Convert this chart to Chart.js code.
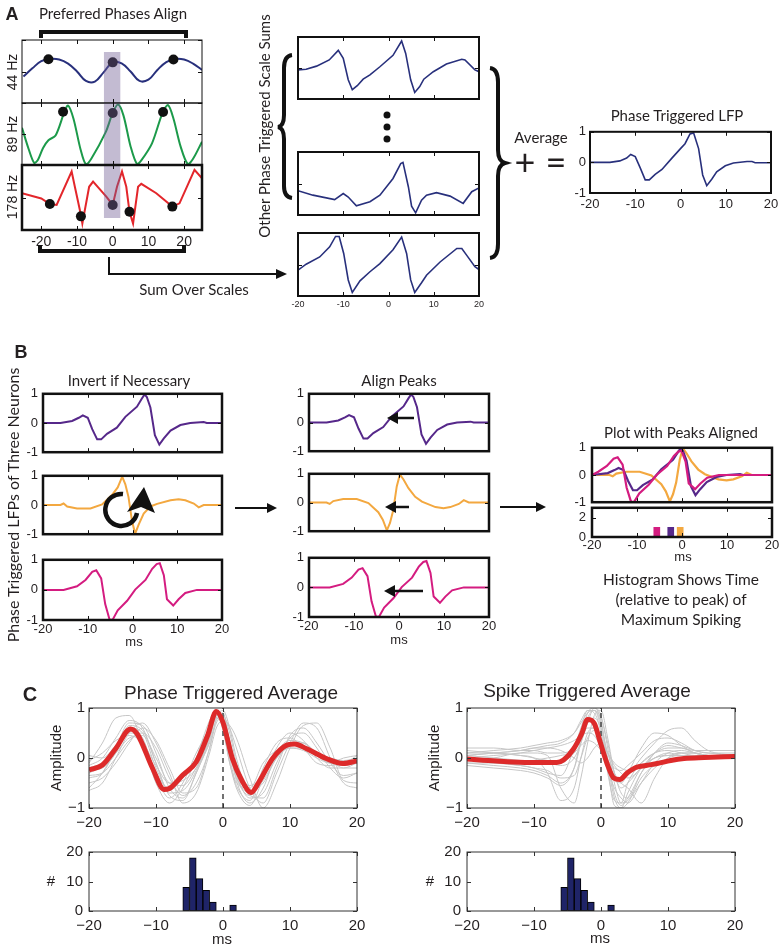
<!DOCTYPE html>
<html><head><meta charset="utf-8">
<script src="https://cdn.jsdelivr.net/npm/chart.js@4.4.1/dist/chart.umd.min.js"></script>
<style>
body{margin:0;background:#fff;}
#fig{position:relative;width:784px;height:949px;overflow:hidden;background:#fff;color:#231f20;}
#fig canvas{position:absolute;z-index:1;}
.t{position:absolute;white-space:nowrap;transform:translate(-50%,-50%);line-height:1;z-index:3;}
.v{position:absolute;white-space:nowrap;transform:translate(-50%,-50%) rotate(-90deg);line-height:1;z-index:3;}
#ov{position:absolute;left:0;top:0;z-index:2;}
</style></head><body>
<div id="fig">
<svg id="ov" width="784" height="949" viewBox="0 0 784 949">
 <g stroke="#111" fill="none">
  <path d="M41 38 V32 H186 V38" stroke-width="4"/>
  <path d="M40 245 V251 H184 V245" stroke-width="4"/>
  <path d="M109 257 V274 H278" stroke-width="2"/>
  <path d="M292 55 Q284 56 284 68 L284 115 Q284 126 278 127 Q284 128 284 139 L284 186 Q284 197 292 198" stroke-width="4"/>
  <path d="M490 68 Q498 69 498 82 L498 150 Q498 161 505 163 Q498 165 498 176 L498 244 Q498 257 490 258" stroke-width="4"/>
  <line x1="235" y1="508" x2="269" y2="508" stroke-width="2"/>
  <line x1="500" y1="507" x2="537" y2="507" stroke-width="2"/>
  <line x1="414" y1="418" x2="396" y2="418" stroke-width="2.5"/>
  <line x1="409" y1="507" x2="394" y2="507" stroke-width="2.5"/>
  <line x1="423" y1="591" x2="393" y2="591" stroke-width="2.5"/>
  <path d="M123 494 A16 16 0 1 0 137 513" stroke-width="4.5"/>
 </g>
 <g fill="#111">
  <polygon points="276,269 287,274 276,279"/>
  <polygon points="267,503 277,508 267,513"/>
  <polygon points="536,502 546,507 536,512"/>
  <polygon points="398,412 387,418 398,424"/>
  <polygon points="396,501 385,507 396,513"/>
  <polygon points="395,585 384,591 395,597"/>
  <polygon points="127,512 144,487 155,513 141,507"/>
  <circle cx="387" cy="115" r="3.5"/>
  <circle cx="387" cy="127" r="3.5"/>
  <circle cx="387" cy="139" r="3.5"/>
 </g>
</svg>
</div>
<script>
// ================= DATA =================
const msTicks = [-20, -10, 0, 10, 20];
const ampTicks = [-1, 0, 1];
const histTicks = [0, 10, 20];
const peakHistTicks = [0, 2];
const triggerTime = 0;

// Panel A - wavelet scale components
const a44x = [-25,-22.5,-20,-17.5,-15,-12.5,-10,-7.5,-5,-2.5,0,2.5,5,7.5,10,12.5,15,17.5,20,22.5,25];
const a44y = [-0.16,0.1,0.33,0.4,0.38,0.25,0.0,-0.3,-0.32,-0.02,0.29,0.26,0.0,-0.3,-0.26,0.05,0.3,0.4,0.38,0.25,0.05];
const a44dotX = [-18, 0, 17];
const a44dotY = [0.39, 0.29, 0.38];

const a89x = [-25.4,-23.5,-22,-21,-19.5,-18,-16,-13.5,-12.5,-11,-9,-7.5,-6,-2,0,1.5,3,5,6.8,8,11,14,15.5,17,19,21,22.5,25];
const a89y = [0.2,-0.5,-0.93,-0.85,-0.45,-0.2,-0.05,0.72,0.92,0.5,-0.5,-0.98,-0.8,0.05,0.68,0.95,0.6,-0.4,-0.97,-0.85,-0.3,0.7,0.93,0.5,-0.4,-0.97,-0.8,-0.25];
const a89dotX = [-13.9, 0, 14.1];
const a89dotY = [0.72, 0.68, 0.71];

const a178x = [-25.4,-20,-17.6,-15.7,-11.5,-10.6,-8.9,-8.5,-6.6,-5.5,-1.8,0,1.2,2.6,3.8,4.7,5.7,7.1,8.0,12.2,16.7,18.7,22.9,25];
const a178y = [0.13,-0.03,-0.2,-0.23,0.8,0.33,-0.54,-0.8,0.33,0.49,0.03,-0.23,0.33,0.8,0.33,-0.44,-0.8,0.33,0.42,0.13,-0.28,-0.18,0.85,0.59];
const a178dotX = [-17.6, -8.9, 0, 4.7, 16.7];
const a178dotY = [-0.2, -0.58, -0.23, -0.44, -0.28];

const shadeX = [-2.5, 2.2];
const shadeTop = 0.62;     // where the shaded band starts in the 44 Hz axes
const shadeBottom = -0.63; // where it ends in the 178 Hz axes

// Panel A - other phase triggered scale sums
const s1x = [-20,-18.2,-15.9,-13.1,-11.1,-10.0,-8.9,-8.0,-6.9,-5.6,-4.1,-1.9,1.0,2.9,3.8,4.9,5.8,6.9,7.8,9.9,12.8,16.2,16.9,19.1,20];
const s1y = [-0.06,-0.04,0.06,0.26,0.57,0.31,-0.38,-0.70,-0.57,-0.36,-0.22,0.04,0.41,0.87,0.47,-0.38,-0.79,-0.60,-0.36,-0.12,0.13,0.28,0.26,-0.06,-0.12];
const s2x = [-20,-16.7,-11.9,-10.0,-8.9,-7.1,-4.1,-1.9,1.0,2.7,3.2,4.4,5.1,6.0,7.3,8.4,10.6,13.6,16.5,18.4,20];
const s2y = [-0.23,-0.37,-0.51,-0.32,-0.43,-0.71,-0.58,-0.37,0.16,0.63,0.67,-0.11,-0.72,-0.93,-0.53,-0.37,-0.29,-0.40,-0.63,-0.26,-0.14];
const s3x = [-20,-18.2,-15.2,-13.0,-11.7,-10.9,-9.9,-8.9,-8.0,-6.3,-4.1,-1.9,1.0,2.9,4.0,4.9,5.8,7.3,8.4,11.4,15.1,16.2,17.3,19.1,20];
const s3y = [-0.18,0.01,0.24,0.56,0.89,0.89,0.35,-0.49,-0.89,-0.52,-0.23,0.03,0.47,0.87,0.35,-0.49,-0.89,-0.58,-0.34,0.08,0.51,0.51,0.29,-0.07,-0.16];

// Panel A - averaged phase triggered LFP
const lfpX = [-20,-15.6,-13.4,-11.9,-11.0,-10.0,-8.9,-7.8,-6.9,-5.6,-4.1,-1.9,0,1.0,2.1,2.9,4.0,4.9,5.8,6.9,8.0,9.9,11.7,14.7,15.8,16.5,20];
const lfpY = [0,0,0.05,0.14,0.26,0.19,-0.18,-0.57,-0.57,-0.39,-0.23,0.14,0.45,0.61,0.93,0.96,0.45,-0.41,-0.76,-0.55,-0.31,-0.11,-0.02,0.03,0.03,-0.01,-0.01];

// Panel B - three neurons
const purX = [-20,-16.1,-13.5,-12,-11.1,-10,-9,-7.9,-7,-5.7,-3.5,-1.6,1,2.1,2.7,3.2,4,5,6,7,8.5,10.7,12.9,15.9,16.6,20];
const purY = [0,0,0.07,0.18,0.26,0.18,-0.21,-0.56,-0.56,-0.37,-0.16,0.21,0.56,0.84,0.98,0.89,0.53,-0.42,-0.74,-0.53,-0.26,-0.07,0,0.03,0,0];
const oraX = [-20,-16.1,-15.4,-14.6,-12.4,-9.4,-6.8,-4.6,-3.3,-2.3,-1.6,-0.9,-0.1,0.6,1.4,2.5,4,5.5,8.5,10.3,11.8,13.7,14.8,15.9,20];
const oraY = [0,0,0.05,-0.05,-0.12,-0.12,0.02,0.34,0.6,0.97,0.71,0.28,-0.56,-0.98,-0.66,-0.29,-0.05,0.04,0.16,0.2,0.16,0.05,-0.08,0,0];
const oraInvX = [-20,-16.1,-15.4,-14.6,-12.4,-9.4,-6.8,-4.6,-3.6,-2.7,-2.0,-1.3,-0.5,0.2,1.0,2.1,3.6,5.1,8.1,9.9,11.4,13.3,14.4,15.5,20];
const oraInvY = [0,0,-0.05,0.05,0.12,0.12,-0.02,-0.34,-0.6,-0.97,-0.71,-0.28,0.56,0.98,0.8,0.5,0.2,0.03,-0.16,-0.2,-0.16,-0.05,0.08,0,0];
const magX = [-20,-15.4,-12.4,-10.5,-9,-8.1,-7,-6.1,-5.1,-4.4,-3.3,-1.2,0.6,2.9,4.4,5.4,6.1,7,7.7,9.1,10.3,11.8,14.4,20];
const magY = [0,0,0.12,0.33,0.6,0.65,0.38,-0.47,-1,-0.98,-0.68,-0.36,0.01,0.33,0.7,0.86,0.89,0.49,-0.31,-0.52,-0.31,-0.1,0,0];
// peaks aligned
const purAlX = [-20,-16.5,-15,-14.1,-13,-12,-10.9,-10,-8.7,-6.5,-4.6,-2,-0.9,-0.3,0.2,1,2,3,4,5.5,7.7,9.9,12.9,13.6,20];
const purAlY = [0,0.07,0.18,0.26,0.18,-0.21,-0.56,-0.56,-0.37,-0.16,0.21,0.56,0.84,0.98,0.89,0.53,-0.42,-0.74,-0.53,-0.26,-0.07,0,0.03,0,0];
const magAlX = [-20,-18.6,-16.7,-15.2,-14.3,-13.2,-12.3,-11.3,-10.6,-9.5,-7.4,-5.6,-3.3,-1.8,-0.8,-0.1,0.8,1.5,2.9,4.1,5.6,8.2,20];
const magAlY = [0,0.12,0.33,0.6,0.65,0.38,-0.47,-1,-0.98,-0.68,-0.36,0.01,0.33,0.7,0.86,0.89,0.49,-0.31,-0.52,-0.31,-0.1,0,0];
// time of maximum spiking for each neuron
const spikeTimeMag = [-5.6], spikeTimePur = [-2.5], spikeTimeOra = [-0.4];
const spikeCount = [1];

// Panel C - phase triggered average
const ptaX = [-20,-18,-16,-13.8,-12.8,-10.5,-8.8,-8.0,-6.0,-4.0,-2.3,-1.0,0,1.4,2.9,4.2,5.4,7.4,9.4,10.7,12.4,15.4,17.9,20];
const ptaY = [-0.24,-0.14,0.19,0.58,0.48,-0.21,-0.63,-0.61,-0.34,-0.08,0.45,0.93,0.71,-0.01,-0.47,-0.69,-0.47,-0.01,0.25,0.28,0.19,-0.01,-0.11,-0.06];
const ptaGridX = [-20,-18,-16,-14,-12,-10,-8,-6,-4,-2,-1,0,1,2,4,6,8,10,12,14,16,18,20];
const pta01 = [-0.3,-0.15,0.2,0.6,0.5,-0.2,-0.65,-0.4,-0.1,0.5,0.95,0.7,0.1,-0.4,-0.75,-0.3,0.1,0.3,0.25,0.05,-0.1,-0.15,-0.1];
const pta02 = [-0.1,0.3,0.8,0.85,0.3,-0.5,-0.9,-0.6,0.0,0.75,0.95,0.6,-0.1,-0.6,-0.95,-0.4,0.2,0.5,0.35,0.0,-0.2,-0.2,-0.1];
const pta03 = [-0.5,-0.4,-0.1,0.3,0.6,0.35,-0.2,-0.7,-0.6,0.2,0.7,0.8,0.6,0.2,-0.6,-0.9,-0.3,0.3,0.7,0.6,0.0,-0.5,-0.6];
const pta04 = [-0.6,-0.3,0.2,0.7,0.65,0.1,-0.6,-0.8,-0.3,0.4,0.85,0.8,0.3,-0.3,-0.8,-0.7,-0.1,0.4,0.5,0.2,-0.2,-0.4,-0.3];
const pta05 = [-0.2,-0.1,0.1,0.4,0.45,0.0,-0.5,-0.55,-0.2,0.3,0.75,0.85,0.5,-0.1,-0.65,-0.5,0.0,0.2,0.2,0.1,0.0,-0.05,0.0];
const pta06 = [-0.4,-0.3,0.15,0.55,0.4,-0.35,-0.8,-0.5,0.1,0.6,0.9,0.55,-0.1,-0.55,-0.85,-0.2,0.3,0.4,0.2,-0.1,-0.15,-0.1,-0.05];
const pta07 = [-0.05,0.1,0.35,0.45,0.3,-0.15,-0.5,-0.45,-0.2,0.4,0.8,0.75,0.35,-0.2,-0.55,-0.35,0.05,0.25,0.3,0.1,-0.05,-0.1,-0.1];
const pta08 = [-0.65,-0.5,0.0,0.5,0.7,0.3,-0.3,-0.9,-0.7,0.1,0.6,0.75,0.65,0.4,-0.4,-1.0,-0.5,0.2,0.65,0.7,0.2,-0.45,-0.5];
const pta09 = [-0.25,-0.2,0.1,0.65,0.55,-0.1,-0.7,-0.65,-0.25,0.45,0.85,0.9,0.3,-0.35,-0.7,-0.45,0.0,0.25,0.3,0.05,-0.1,-0.1,0.05];
const pta10 = [0.05,0.0,0.25,0.5,0.35,-0.3,-0.6,-0.4,0.0,0.55,0.9,0.6,0.0,-0.5,-0.6,-0.1,0.15,0.2,0.15,0.0,-0.1,0.0,0.05];
const pta11 = [-0.35,-0.3,0.0,0.35,0.5,0.2,-0.4,-0.75,-0.5,0.2,0.8,0.95,0.6,0.0,-0.75,-0.8,-0.2,0.45,0.6,0.3,-0.1,-0.35,-0.3];
const pta12 = [-0.15,0.0,0.4,0.75,0.6,-0.1,-0.75,-0.85,-0.3,0.35,0.85,0.8,0.2,-0.45,-0.9,-0.6,0.1,0.35,0.3,0.1,-0.05,-0.2,-0.2];

// Panel C - spike triggered average
const staX = [-20,-15.6,-10.6,-6.6,-5.6,-4.1,-2.9,-2.0,-1.0,-0.1,0.9,1.9,2.8,3.9,5.2,6.7,8.4,10.4,12.4,15.4,20];
const staY = [-0.02,-0.06,-0.09,-0.09,-0.04,0.18,0.48,0.77,0.69,0.31,-0.11,-0.40,-0.43,-0.30,-0.19,-0.15,-0.11,-0.05,-0.01,0.01,0.03];
const staGridX = [-20,-16,-12,-10,-8,-6,-4,-3,-2,-1,0,1,2,3,4,6,8,10,12,14,16,20];
const sta01 = [0.05,0.1,0.15,0.2,0.25,0.3,0.5,0.75,0.95,0.9,0.5,-0.3,-0.85,-0.9,-0.5,-0.1,0.1,0.15,0.1,0.05,0.05,0.05];
const sta02 = [-0.05,-0.1,-0.15,-0.2,-0.3,-0.35,0.2,0.6,0.95,0.95,0.6,-0.2,-0.95,-1.0,-0.7,-0.2,0.0,0.05,0.05,0.05,0.05,0.0];
const sta03 = [0.1,0.1,0.05,0.0,-0.3,-0.85,-0.6,0.0,0.5,0.6,0.3,-0.1,-0.4,-0.5,-0.3,0.2,0.5,0.45,0.25,0.1,0.05,0.05];
const sta04 = [-0.1,-0.15,-0.2,-0.25,-0.35,-0.5,-0.2,0.3,0.8,0.95,0.7,0.0,-0.7,-0.95,-0.8,-0.3,0.1,0.3,0.25,0.15,0.1,0.05];
const sta05 = [0.0,0.05,0.1,0.15,0.2,0.25,0.35,0.45,0.5,0.45,0.2,-0.1,-0.35,-0.45,-0.35,0.0,0.3,0.55,0.6,0.35,0.15,0.05];
const sta06 = [0.1,0.15,0.2,0.25,0.3,0.35,0.5,0.7,0.9,0.95,0.8,0.3,-0.3,-0.7,-0.8,-0.3,0.0,0.05,0.1,0.1,0.05,0.05];
const sta07 = [-0.1,-0.1,-0.15,-0.2,-0.25,-0.4,-0.35,0.0,0.4,0.55,0.35,-0.2,-0.6,-0.8,-0.9,-0.5,-0.1,0.1,0.15,0.1,0.05,0.0];
const sta08 = [0.05,0.0,-0.05,-0.1,-0.1,-0.15,0.0,0.3,0.7,1.0,0.85,0.2,-0.5,-0.9,-0.85,-0.5,-0.2,0.0,0.05,0.05,0.05,0.05];
const sta09 = [0.15,0.1,0.05,0.0,-0.05,-0.1,0.1,0.25,0.35,0.3,0.15,-0.05,-0.2,-0.25,-0.15,0.1,0.35,0.4,0.3,0.15,0.1,0.1];
const sta10 = [-0.05,0.0,0.1,0.1,0.05,-0.6,-0.9,-0.4,0.3,0.85,0.95,0.4,-0.3,-0.6,-0.5,-0.2,0.0,0.1,0.05,0.0,0.0,0.0];
const sta11 = [0.0,-0.05,-0.1,-0.05,0.0,0.05,0.15,0.4,0.7,0.8,0.6,0.1,-0.3,-0.5,-0.6,-0.9,-0.4,0.0,0.1,0.1,0.05,0.05];
const sta12 = [0.2,0.2,0.15,0.15,0.1,0.1,0.2,0.4,0.6,0.6,0.4,0.1,-0.15,-0.3,-0.4,-0.2,0.1,0.25,0.2,0.15,0.15,0.15];
const sta13 = [-0.15,-0.2,-0.25,-0.3,-0.4,-0.55,-0.2,0.4,0.9,1.0,0.75,-0.1,-0.8,-1.0,-0.9,-0.4,-0.15,-0.05,0.0,0.0,0.0,0.0];
const sta14 = [0.05,0.1,0.15,0.2,0.2,0.15,0.0,-0.1,0.0,0.2,0.3,0.1,-0.1,-0.2,-0.25,-0.1,0.1,0.2,0.2,0.1,0.05,0.05];

// Panel C - histogram of spike time relative to peak
const histBins = [-5.5, -4.5, -3.5, -2.5, -1.5, 1.5];
const histCounts = [8, 18, 11, 7, 3, 2];

// ================= RENDER =================
const fig = document.getElementById('fig');
const INK = '#231f20';
const C_NAVY = '#28307c', C_GREEN = '#1c9a4a', C_RED = '#e3262b';
const C_PUR = '#56288a', C_ORA = '#f3a840', C_MAG = '#d41c80';
const C_GRAY = '#c6c6c6', C_MEAN = '#dd2a2a', C_BAR = '#1f2468';

const pts = (xs, ys) => xs.map((x, i) => ({x, y: ys[i]}));
function ln(xs, ys, color, w, extra) {
  return Object.assign({type: 'line', data: pts(xs, ys), borderColor: color, borderWidth: w,
    pointRadius: 0, fill: false, tension: 0}, extra || {});
}
function dots(xs, ys) {
  return {type: 'line', data: pts(xs, ys), showLine: false, pointRadius: 5,
    pointBackgroundColor: '#111', pointBorderWidth: 0};
}
function smooth(xs, ys, color, w) {
  return ln(xs, ys, color, w, {cubicInterpolationMode: 'monotone'});
}

function framePlugin(o) {
  return {
    id: 'frame',
    afterDatasetsDraw(chart) {
      const {ctx, chartArea: a} = chart;
      const sx = chart.scales.x, sy = chart.scales.y;
      ctx.save();
      ctx.strokeStyle = o.color;
      if (o.tick) {
        ctx.lineWidth = 1;
        ctx.beginPath();
        o.xt.forEach(v => {
          const p = Math.round(sx.getPixelForValue(v)) + 0.5;
          ctx.moveTo(p, a.bottom); ctx.lineTo(p, a.bottom - o.tick);
          ctx.moveTo(p, a.top); ctx.lineTo(p, a.top + o.tick);
        });
        o.yt.forEach(v => {
          const p = Math.round(sy.getPixelForValue(v)) + 0.5;
          ctx.moveTo(a.left, p); ctx.lineTo(a.left + o.tick, p);
          ctx.moveTo(a.right, p); ctx.lineTo(a.right - o.tick, p);
        });
        ctx.stroke();
      }
      ctx.lineWidth = o.w;
      ctx.strokeRect(a.left, a.top, a.right - a.left, a.bottom - a.top);
      ctx.restore();
    }
  };
}

function plot(o) {
  const [l, t, w, h] = o.frame;
  const lw = o.lw ?? 36, tp = o.tp ?? 10, rp = o.rp ?? 16, bh = o.bh ?? 24;
  const c = document.createElement('canvas');
  c.width = w + lw + rp; c.height = h + tp + bh;
  Object.assign(c.style, {left: (l - lw) + 'px', top: (t - tp) + 'px',
    width: c.width + 'px', height: c.height + 'px'});
  fig.appendChild(c);
  const fmt = v => o.minus ? String(v).replace('-', '\u2212') : String(v);
  const font = {family: o.ff || 'Liberation Sans', size: o.fs || 13};
  const yfont = {family: o.ff || 'Liberation Sans', size: o.yfs || o.fs || 13};
  return new Chart(c, {
    type: 'line',
    data: {datasets: o.ds},
    options: {
      responsive: false, animation: false, devicePixelRatio: 1, events: [],
      layout: {padding: {left: 0, top: tp, right: rp, bottom: 0}},
      plugins: {legend: {display: false}, tooltip: {enabled: false}},
      scales: {
        x: {type: 'linear', min: o.xr[0], max: o.xr[1], offset: false,
          afterBuildTicks: s => { s.ticks = o.xt.map(v => ({value: v})); },
          afterFit: s => { s.height = bh; },
          grid: {display: false, drawTicks: false}, border: {display: false},
          ticks: {display: !!o.xl, font, color: INK, padding: o.xp ?? 3, maxRotation: 0,
            autoSkip: false, callback: fmt}},
        y: {type: 'linear', min: o.yr[0], max: o.yr[1],
          afterBuildTicks: s => { s.ticks = o.yt.map(v => ({value: v})); },
          afterFit: s => { s.width = lw; },
          grid: {display: false, drawTicks: false}, border: {display: false},
          ticks: {display: !!o.yl, font: yfont, color: INK, padding: o.yp ?? 5,
            autoSkip: false, callback: fmt}}
      }
    },
    plugins: [framePlugin({w: o.bw ?? 2, color: o.bc || '#111', tick: o.tick ?? 4, xt: o.xt, yt: o.yt})]
  });
}

function T(s, x, y, size, o) {
  o = o || {};
  const d = document.createElement('div');
  d.className = o.rot ? 'v' : 't';
  d.textContent = s;
  Object.assign(d.style, {left: x + 'px', top: y + 'px', fontSize: size + 'px',
    fontFamily: o.ff || 'Lato', fontWeight: o.bold ? 'bold' : 'normal'});
  fig.appendChild(d);
}

const SHADE = 'rgba(112,92,148,0.42)';
const shadeDs = (yLine, yFill) => ({type: 'line', data: pts(shadeX, [yLine, yLine]), borderWidth: 0,
  pointRadius: 0, fill: {value: yFill}, backgroundColor: SHADE});

// ---- Panel A, scale components ----
const AX = [-25.4, 25];
plot({frame: [22, 40, 180, 63], xr: AX, yr: [-1, 1], xt: msTicks, yt: ampTicks, bw: 1, lw: 12, bh: 10,
  ds: [shadeDs(shadeTop, -1), dots(a44dotX, a44dotY), ln(a44x, a44y, C_NAVY, 2, {tension: 0.4})]});
plot({frame: [22, 103, 180, 62], xr: AX, yr: [-1, 1], xt: msTicks, yt: ampTicks, bw: 1, lw: 12, bh: 10,
  ds: [shadeDs(1, -1), dots(a89dotX, a89dotY), ln(a89x, a89y, C_GREEN, 2, {tension: 0.3})]});
plot({frame: [22, 165, 180, 65], xr: AX, yr: [-1, 1], xt: msTicks, yt: ampTicks, bw: 2.5, lw: 12, bh: 24,
  xl: true, fs: 14, xp: 4,
  ds: [shadeDs(shadeBottom, 1), dots(a178dotX, a178dotY), ln(a178x, a178y, C_RED, 2)]});

// ---- Panel A, scale sums ----
const MX = [-20, 20];
plot({frame: [298, 37, 181, 62], xr: MX, yr: [-1, 1], xt: msTicks, yt: ampTicks, bh: 10, lw: 14,
  ds: [ln(s1x, s1y, C_NAVY, 1.6)]});
plot({frame: [298, 152, 181, 63], xr: MX, yr: [-1, 1], xt: msTicks, yt: ampTicks, bh: 10, lw: 14,
  ds: [ln(s2x, s2y, C_NAVY, 1.6)]});
plot({frame: [298, 233, 181, 63], xr: MX, yr: [-1, 1], xt: msTicks, yt: ampTicks, bh: 18, lw: 14,
  xl: true, fs: 9, xp: 3, ds: [ln(s3x, s3y, C_NAVY, 1.6)]});
plot({frame: [590, 130, 181, 63], xr: MX, yr: [-1, 1], xt: msTicks, yt: ampTicks, bh: 22, xl: true, yl: true,
  fs: 13, xp: 4, yp: 4, ds: [ln(lfpX, lfpY, C_NAVY, 1.6)]});

// ---- Panel B ----
plot({frame: [43, 391, 179, 64], xr: MX, yr: [-1, 1], xt: msTicks, yt: ampTicks, bw: 2.5, yl: true, bh: 10,
  ds: [ln(purX, purY, C_PUR, 2)]});
plot({frame: [43, 473, 179, 64], xr: MX, yr: [-1, 1], xt: msTicks, yt: ampTicks, bw: 2.5, yl: true, bh: 10,
  ds: [ln(oraX, oraY, C_ORA, 2)]});
plot({frame: [43, 557, 179, 63], xr: MX, yr: [-1, 1], xt: msTicks, yt: ampTicks, bw: 2.5, yl: true, xl: true,
  xp: 2, ds: [ln(magX, magY, C_MAG, 2)]});

plot({frame: [309, 391, 180, 63], xr: MX, yr: [-1, 1], xt: msTicks, yt: ampTicks, bw: 2.5, yl: true, bh: 10,
  ds: [ln(purX, purY, C_PUR, 2)]});
plot({frame: [309, 471, 180, 63], xr: MX, yr: [-1, 1], xt: msTicks, yt: ampTicks, bw: 2.5, yl: true, bh: 10,
  ds: [ln(oraInvX, oraInvY, C_ORA, 2)]});
plot({frame: [309, 555, 180, 62], xr: MX, yr: [-1, 1], xt: msTicks, yt: ampTicks, bw: 2.5, yl: true, xl: true,
  xp: 2, ds: [ln(magX, magY, C_MAG, 2)]});

plot({frame: [592, 444, 180, 62], xr: MX, yr: [-1, 1], xt: msTicks, yt: ampTicks, bw: 2.5, yl: true, bh: 10,
  yp: 6, ds: [ln(magAlX, magAlY, C_MAG, 2.2), ln(purAlX, purAlY, C_PUR, 2.2), ln(oraInvX, oraInvY, C_ORA, 2.2)]});
const tagBar = (xs, color) => ({type: 'bar', data: pts(xs, spikeCount), backgroundColor: color,
  barThickness: 6, grouped: false, borderWidth: 0});
plot({frame: [592, 506, 180, 31], xr: MX, yr: [0, 3], xt: msTicks, yt: peakHistTicks, bw: 2.5, yl: true,
  xl: true, xp: 1, yp: 6, tp: 12,
  ds: [tagBar(spikeTimeMag, C_MAG), tagBar(spikeTimePur, C_PUR), tagBar(spikeTimeOra, C_ORA)]});

// ---- Panel C ----
const CF = 'Liberation Sans';
const ptaGray = [pta01, pta02, pta03, pta04, pta05, pta06, pta07, pta08, pta09, pta10, pta11, pta12];
const staGray = [sta01, sta02, sta03, sta04, sta05, sta06, sta07, sta08, sta09, sta10, sta11, sta12, sta13, sta14];
const zeroLine = () => ({type: 'line', data: [{x: triggerTime, y: -1}, {x: triggerTime, y: 1}],
  borderColor: '#444', borderWidth: 1.5, borderDash: [5, 4], pointRadius: 0, fill: false});
const histBar = () => ({type: 'bar', data: pts(histBins, histCounts), backgroundColor: C_BAR,
  borderColor: '#000', borderWidth: 1, borderSkipped: false, barPercentage: 1, categoryPercentage: 1, grouped: false});

plot({frame: [89, 705, 268, 103], xr: MX, yr: [-1, 1], xt: msTicks, yt: ampTicks, bw: 1, bc: '#333',
  xl: true, yl: true, fs: 15, xp: 6, yp: 4, minus: true, bh: 26,
  ds: [smooth(ptaX, ptaY, C_MEAN, 5), zeroLine(), ...ptaGray.map(g => smooth(ptaGridX, g, C_GRAY, 1))]});
plot({frame: [89, 847, 268, 64], xr: MX, yr: [0, 20], xt: msTicks, yt: histTicks, bw: 1, bc: '#333',
  xl: true, yl: true, fs: 15, xp: 6, yp: 6, minus: true, bh: 26, ds: [histBar()]});
plot({frame: [467, 705, 268, 103], xr: MX, yr: [-1, 1], xt: msTicks, yt: ampTicks, bw: 1, bc: '#333',
  xl: true, yl: true, fs: 15, xp: 6, yp: 4, minus: true, bh: 26,
  ds: [smooth(staX, staY, C_MEAN, 5), zeroLine(), ...staGray.map(g => smooth(staGridX, g, C_GRAY, 1))]});
plot({frame: [467, 847, 268, 64], xr: MX, yr: [0, 20], xt: msTicks, yt: histTicks, bw: 1, bc: '#333',
  xl: true, yl: true, fs: 15, xp: 6, yp: 6, minus: true, bh: 26, ds: [histBar()]});

// ---- Text ----
T('A', 12, 14, 18, {bold: true, ff: 'Liberation Sans'});
T('Preferred Phases Align', 113, 13, 15);
T('44 Hz', 12, 72, 14, {rot: true, ff: 'Liberation Sans'});
T('89 Hz', 12, 134, 14, {rot: true, ff: 'Liberation Sans'});
T('178 Hz', 12, 197, 14, {rot: true, ff: 'Liberation Sans'});
T('Sum Over Scales', 194, 289, 15);
T('Other Phase Triggered Scale Sums', 264, 126, 15, {rot: true});
T('Average', 541, 137, 15);
T('+', 525, 161, 36);
T('=', 556, 161, 36);
T('Phase Triggered LFP', 677, 115, 15);

T('B', 21, 352, 18, {bold: true, ff: 'Liberation Sans'});
T('Phase Triggered LFPs of Three Neurons', 13, 505, 16, {rot: true});
T('Invert if Necessary', 129, 380, 15);
T('Align Peaks', 399, 380, 15);
T('ms', 134, 641, 13, {ff: 'Liberation Sans'});
T('ms', 399, 639, 13, {ff: 'Liberation Sans'});
T('Plot with Peaks Aligned', 681, 432, 15);
T('ms', 683, 556, 13, {ff: 'Liberation Sans'});
T('Histogram Shows Time', 681, 580, 15.5);
T('(relative to peak) of', 681, 600, 15.5);
T('Maximum Spiking', 681, 620, 15.5);

T('C', 30, 694, 20, {bold: true, ff: CF});
T('Phase Triggered Average', 231, 692, 19, {ff: CF});
T('Spike Triggered Average', 587, 690, 19, {ff: CF});
T('Amplitude', 55, 758, 15, {rot: true, ff: CF});
T('Amplitude', 433, 758, 15, {rot: true, ff: CF});
T('#', 51, 880, 15, {ff: CF});
T('#', 430, 880, 15, {ff: CF});
T('ms', 222, 938, 15, {ff: CF});
T('ms', 600, 937, 15, {ff: CF});
</script>
</body></html>
